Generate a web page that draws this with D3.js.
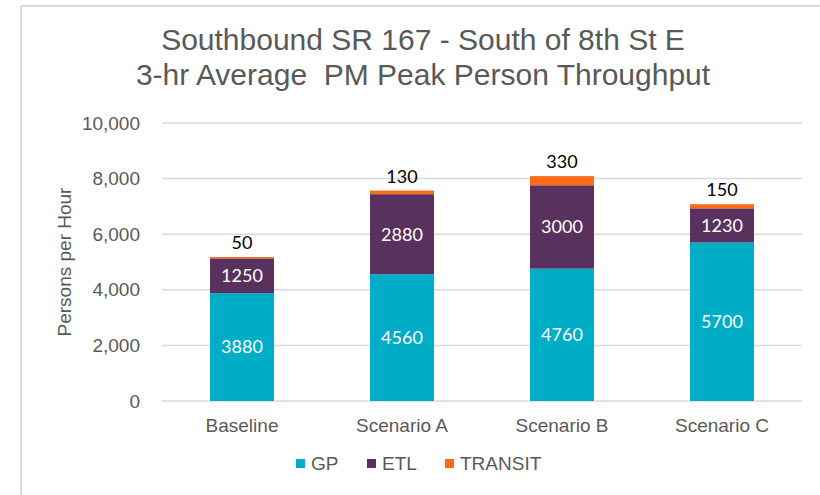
<!DOCTYPE html>
<html>
<head>
<meta charset="utf-8">
<script src="https://cdn.jsdelivr.net/npm/d3@7"></script>
<style>
  html, body { margin: 0; padding: 0; background: #fff; }
  svg { display: block; }
  text { white-space: pre; }
</style>
</head>
<body>
<svg id="chart" width="820" height="495"></svg>
<script>
// Southbound SR 167 person throughput by scenario
const categories = ["Baseline", "Scenario A", "Scenario B", "Scenario C"];
const gpValues = [3880, 4560, 4760, 5700];
const etlValues = [1250, 2880, 3000, 1230];
const transitValues = [50, 130, 330, 150];
const seriesNames = ["GP", "ETL", "TRANSIT"];
const yTicks = [0, 2000, 4000, 6000, 8000, 10000];
const titleLines = ["Southbound SR 167 - South of 8th St E", "3-hr Average  PM Peak Person Throughput"];

const colors = { GP: "#00ADC6", ETL: "#59315F", TRANSIT: "#FF6B17" };
const axisFont = "'Liberation Sans', Arial, sans-serif";
const labelFont = "Lato, 'Open Sans', sans-serif";

const svg = d3.select("#chart");

// chart frame edges
svg.append("line").attr("x1", 21).attr("x2", 820).attr("y1", 6).attr("y2", 6)
  .attr("stroke", "#D9D9D9").attr("stroke-width", 2);
svg.append("line").attr("x1", 21).attr("x2", 21).attr("y1", 6).attr("y2", 495)
  .attr("stroke", "#D9D9D9").attr("stroke-width", 2);

const plot = { left: 162, right: 802, top: 123, bottom: 401 };

const x = d3.scaleBand().domain(categories)
  .range([plot.left, plot.right]).paddingInner(0.6).paddingOuter(0.3);
const y = d3.scaleLinear().domain([0, 10000]).range([plot.bottom, plot.top]);

// title
svg.append("g").selectAll("text").data(titleLines).join("text")
  .attr("x", 423).attr("y", (d, i) => 50 + i * 35)
  .attr("text-anchor", "middle")
  .attr("font-family", axisFont).attr("font-size", 30).attr("fill", "#595959")
  .text(d => d);

// gridlines
svg.append("g").selectAll("line").data(yTicks).join("line")
  .attr("x1", plot.left).attr("x2", plot.right)
  .attr("y1", d => y(d)).attr("y2", d => y(d))
  .attr("stroke", "#D9D9D9").attr("stroke-width", 1.5);

// y axis labels
const yAxis = d3.axisLeft(y).tickValues(yTicks).tickFormat(d3.format(",")).tickSize(0).tickPadding(0);
const yg = svg.append("g").attr("transform", `translate(140,0)`).call(yAxis);
yg.select(".domain").remove();
yg.selectAll("text").attr("font-family", axisFont).attr("font-size", 19).attr("fill", "#595959");

// y axis title
svg.append("text")
  .attr("transform", `translate(71,${(plot.top + plot.bottom) / 2}) rotate(-90)`)
  .attr("text-anchor", "middle")
  .attr("font-family", axisFont).attr("font-size", 19).attr("fill", "#595959")
  .text("Persons per Hour");

// x axis labels
const xAxis = d3.axisBottom(x).tickSize(0).tickPadding(0);
const xg = svg.append("g").attr("transform", `translate(0,418)`).call(xAxis);
xg.select(".domain").remove();
xg.selectAll("text").attr("font-family", axisFont).attr("font-size", 19).attr("fill", "#595959");

// stacked bars
const rows = categories.map((c, i) => ({ category: c, GP: gpValues[i], ETL: etlValues[i], TRANSIT: transitValues[i] }));
const stacked = d3.stack().keys(seriesNames)(rows);

const layers = svg.append("g").selectAll("g").data(stacked).join("g")
  .attr("fill", d => colors[d.key]);
layers.selectAll("rect").data(d => d).join("rect")
  .attr("x", d => x(d.data.category))
  .attr("width", x.bandwidth())
  .attr("y", d => y(d[1]))
  .attr("height", d => y(d[0]) - y(d[1]));

// value labels inside GP and ETL segments
stacked.filter(s => s.key !== "TRANSIT").forEach(s => {
  svg.append("g").selectAll("text").data(s).join("text")
    .attr("x", d => x(d.data.category) + x.bandwidth() / 2)
    .attr("y", d => (y(d[0]) + y(d[1])) / 2)
    .attr("dy", "0.35em")
    .attr("text-anchor", "middle")
    .attr("font-family", labelFont).attr("font-size", 18).attr("fill", "#FFFFFF")
    .text(d => d.data[s.key]);
});

// transit labels above the stack
const transitLayer = stacked.find(s => s.key === "TRANSIT");
svg.append("g").selectAll("text").data(transitLayer).join("text")
  .attr("x", d => x(d.data.category) + x.bandwidth() / 2)
  .attr("y", d => y(d[1]) - 8)
  .attr("text-anchor", "middle")
  .attr("font-family", labelFont).attr("font-size", 18).attr("fill", "#000000")
  .text(d => d.data.TRANSIT);

// legend
const legendX = [296, 367, 445];
const legend = svg.append("g").selectAll("g").data(seriesNames).join("g")
  .attr("transform", (d, i) => `translate(${legendX[i]},459)`);
legend.append("rect").attr("width", 9).attr("height", 9).attr("fill", d => colors[d]);
legend.append("text").attr("x", 15).attr("y", 11)
  .attr("font-family", axisFont).attr("font-size", 19).attr("fill", "#595959")
  .text(d => d);
</script>
</body>
</html>
